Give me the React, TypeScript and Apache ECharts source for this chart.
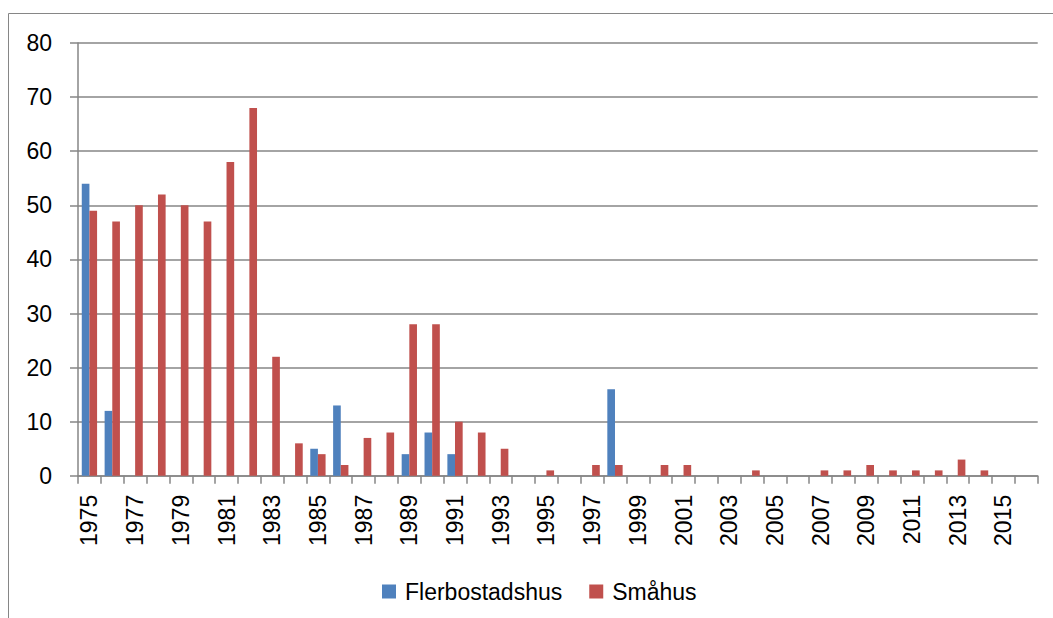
import React, { useEffect, useRef } from "react";
import * as echarts from "echarts";

const years: string[] = [
  "1975","1976","1977","1978","1979","1980","1981","1982","1983","1984",
  "1985","1986","1987","1988","1989","1990","1991","1992","1993","1994",
  "1995","1996","1997","1998","1999","2000","2001","2002","2003","2004",
  "2005","2006","2007","2008","2009","2010","2011","2012","2013","2014",
  "2015","2016",
];

const flerbostadshus: number[] = [
  54, 12, 0, 0, 0, 0, 0, 0, 0, 0,
  5, 13, 0, 0, 4, 8, 4, 0, 0, 0,
  0, 0, 0, 16, 0, 0, 0, 0, 0, 0,
  0, 0, 0, 0, 0, 0, 0, 0, 0, 0,
  0, 0,
];

const smahus: number[] = [
  49, 47, 50, 52, 50, 47, 58, 68, 22, 6,
  4, 2, 7, 8, 28, 28, 10, 8, 5, 0,
  1, 0, 2, 2, 0, 2, 2, 0, 0, 1,
  0, 0, 1, 1, 2, 1, 1, 1, 3, 1,
  0, 0,
];

const seriesNames = ["Flerbostadshus", "Småhus"];
const FONT = "'Liberation Sans', Arial, sans-serif";
const GRAY = "#868686";

export default function App() {
  const ref = useRef<HTMLDivElement>(null);
  useEffect(() => {
    if (!ref.current) return;
    const chart = echarts.init(ref.current, undefined, { renderer: "svg" });
    chart.setOption({
      animation: false,
      backgroundColor: "#ffffff",
      textStyle: { fontFamily: FONT },
      graphic: [
        {
          type: "rect",
          shape: { x: 8.5, y: 13.5, width: 1200, height: 800 },
          style: { fill: "none", stroke: GRAY, lineWidth: 1 },
          silent: true,
        },
      ],
      grid: { left: 78, right: 15.3, top: 43, bottom: 142.2, containLabel: false },
      legend: {
        data: seriesNames,
        left: 377,
        top: 575,
        itemWidth: 14,
        itemHeight: 14,
        itemGap: 27,
        icon: "rect",
        textStyle: { fontSize: 23, color: "#000", fontFamily: FONT, padding: [0, 0, 0, 4] },
      },
      xAxis: {
        type: "category",
        data: years,
        axisLine: { lineStyle: { color: GRAY, width: 1.5 } },
        axisTick: { show: true, length: 8, interval: 0, lineStyle: { color: GRAY, width: 1.5 } },
        axisLabel: {
          interval: 1,
          rotate: 90,
          fontSize: 23,
          color: "#000",
          fontFamily: FONT,
          margin: 19,
        },
        splitLine: { show: false },
      },
      yAxis: {
        type: "value",
        min: 0,
        max: 80,
        interval: 10,
        axisLine: { show: true, lineStyle: { color: GRAY, width: 1.5 } },
        axisTick: { show: true, length: 8, lineStyle: { color: GRAY, width: 1.5 } },
        axisLabel: { fontSize: 23, color: "#000", fontFamily: FONT, margin: 26 },
        splitLine: { show: true, lineStyle: { color: GRAY, width: 1.5 } },
      },
      series: [
        {
          name: seriesNames[0],
          type: "bar",
          data: flerbostadshus,
          itemStyle: { color: "#4F81BD" },
          barGap: "0%",
          barCategoryGap: "33%",
        },
        {
          name: seriesNames[1],
          type: "bar",
          data: smahus,
          itemStyle: { color: "#C0504D" },
          barGap: "0%",
          barCategoryGap: "33%",
        },
      ],
    });
    return () => chart.dispose();
  }, []);
  return (
    <div
      ref={ref}
      style={{ position: "fixed", left: 0, top: 0, width: 1053, height: 618 }}
    />
  );
}
